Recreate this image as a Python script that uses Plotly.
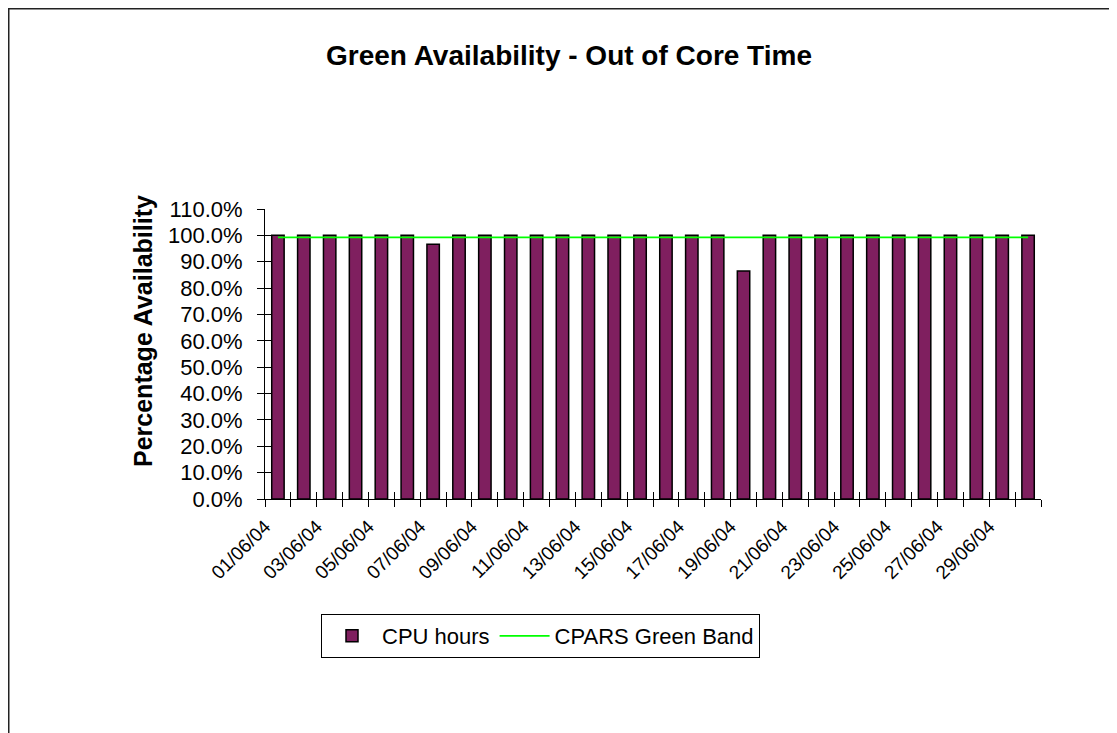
import plotly.graph_objects as go

dates = [f"{d:02d}/06/04" for d in range(1, 31)]
cpu_hours = [1.0, 1.0, 1.0, 1.0, 1.0, 1.0, 0.966, 1.0, 1.0, 1.0,
             1.0, 1.0, 1.0, 1.0, 1.0, 1.0, 1.0, 1.0, 0.865, 1.0,
             1.0, 1.0, 1.0, 1.0, 1.0, 1.0, 1.0, 1.0, 1.0, 1.0]
green_band = [0.992] * 30
tick_text = [d if i % 2 == 0 else "" for i, d in enumerate(dates)]

# figure is placed at page offset (8, 8) by the html body margin
OFF = 8
W, H = 1117 - OFF, 733 - OFF
L, R, T, B = 265 - OFF, 1041 - OFF, 209 - OFF, 499 - OFF
font = "Liberation Sans, Arial, sans-serif"


def px(xpage):
    return (xpage - OFF - L) / (R - L)


def py(ypage):
    return (B - (ypage - OFF)) / (B - T)


fig = go.Figure()
fig.add_trace(go.Bar(
    x=dates, y=cpu_hours, name="CPU hours",
    marker=dict(color="#7F1F5F", line=dict(color="black", width=1.5)),
    width=0.48,
))
fig.add_trace(go.Scatter(
    x=dates, y=green_band, name="CPARS Green Band", mode="lines",
    line=dict(color="#00FF00", width=1.8),
    xaxis="x2", yaxis="y2",
))

fig.update_layout(
    width=W, height=H,
    margin=dict(l=L, r=W - R, t=T, b=H - B, autoexpand=False),
    paper_bgcolor="white", plot_bgcolor="white",
    font=dict(family=font, size=22, color="black"),
    title=dict(text="<b>Green Availability - Out of Core Time</b>",
               x=(569 - OFF) / W, xanchor="center", xref="container",
               y=1 - (55 - OFF) / H, yanchor="middle", yref="container",
               font=dict(size=28, family=font)),
    showlegend=True,
    legend=dict(orientation="h", x=px(321), y=py(614), xanchor="left", yanchor="top",
                bordercolor="black", borderwidth=1, bgcolor="white",
                font=dict(size=22, family=font), itemwidth=50),
    xaxis=dict(type="category", range=[-0.5, 29.5], tickmode="array",
               tickvals=dates, ticktext=tick_text, tickangle=-45,
               tickson="boundaries", ticks="outside", ticklen=7, tickcolor="black",
               showline=True, linecolor="black", linewidth=1, showgrid=False,
               tickfont=dict(size=19, family=font), fixedrange=True,
               ticklabelstandoff=8, ticklabelshift=-13),
    yaxis=dict(range=[0, 1.1], dtick=0.1, tick0=0, tickformat=".1%",
               ticks="outside", ticklen=7, tickcolor="black",
               showline=True, linecolor="black", linewidth=1, showgrid=False,
               zeroline=False, tickfont=dict(size=22, family=font),
               ticklabelstandoff=10),
    xaxis2=dict(type="category", range=[-0.5, 29.5], overlaying="x",
                tickmode="array", tickvals=dates, ticktext=[""] * 30,
                tickson="boundaries", ticks="inside", ticklen=7, tickcolor="black",
                showline=False, showgrid=False, side="bottom", anchor="y2"),
    yaxis2=dict(range=[0, 1.1], dtick=0.1, tick0=0, overlaying="y",
                ticks="inside", ticklen=7, tickcolor="black", showticklabels=False,
                showline=False, showgrid=False, zeroline=False, side="left", anchor="x2"),
    annotations=[dict(text="<b>Percentage Availability</b>", textangle=-90,
                      x=px(143), y=py(331), xref="paper", yref="paper",
                      xanchor="center", yanchor="middle", showarrow=False,
                      font=dict(size=25, family=font))],
    shapes=[dict(type="rect", xref="paper", yref="paper",
                 x0=px(8.75), x1=px(1140), y0=py(760), y1=py(8.75),
                 line=dict(color="#222222", width=1.5), fillcolor="rgba(0,0,0,0)",
                 layer="below")],
)

fig.write_html("out.html")
